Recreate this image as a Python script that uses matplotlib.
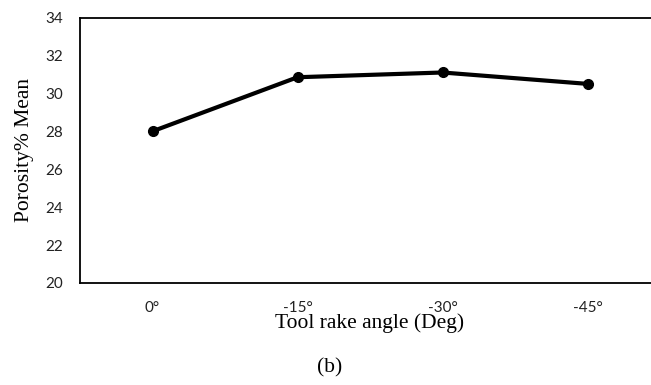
import matplotlib
matplotlib.use('Agg')
import matplotlib.pyplot as plt

# 데이터
angles = ['0°', '-15°', '-30°', '-45°']
porosity = [28.0, 30.85, 31.1, 30.5]
y_ticks = [20, 22, 24, 26, 28, 30, 32, 34]

fig = plt.figure(figsize=(6.51, 3.85), dpi=100)
# 오른쪽 테두리는 그림 밖으로 잘림
ax = fig.add_axes([80 / 651, 1 - 283 / 385, 580 / 651, 265.5 / 385])

x = list(range(len(angles)))
ax.plot(x, porosity, color='black', lw=3, marker='o', ms=7, solid_capstyle='round')

ax.set_xlim(-0.5, 3.5)
ax.set_ylim(20, 34)
ax.set_yticks(y_ticks)
ax.set_xticks(x)
ax.set_xticklabels(angles)
ax.tick_params(length=0, labelsize=11)
ax.tick_params(axis='x', pad=13)
ax.tick_params(axis='y', pad=12)
for lab in ax.get_xticklabels() + ax.get_yticklabels():
    lab.set_family('Lato')
    lab.set_color('#222222')
for s in ax.spines.values():
    s.set_linewidth(1.3)

ax.set_xlabel('Tool rake angle (Deg)', family='Liberation Serif', fontsize=15.5, labelpad=-1)
ax.set_ylabel('Porosity% Mean', family='Liberation Serif', fontsize=15.5, labelpad=8)

fig.text(330 / 651, 1 - 368 / 385, '(b)', family='Liberation Serif', fontsize=15.5,
         ha='center', va='center')

plt.savefig('out.png', dpi=100)
